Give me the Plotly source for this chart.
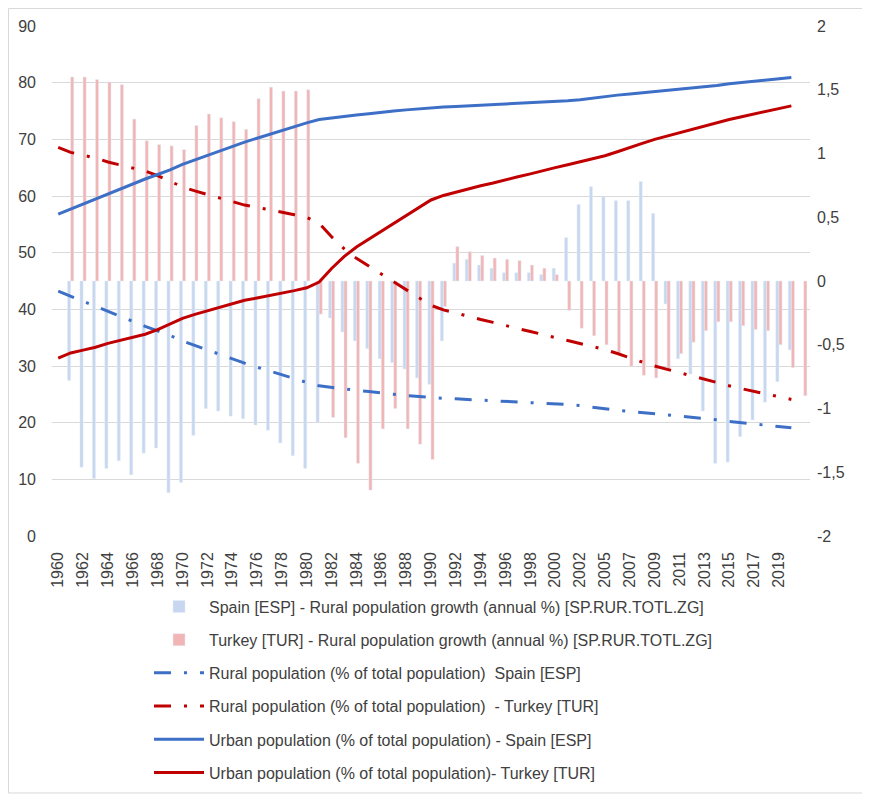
import plotly.graph_objects as go

years = [1960, 1961, 1962, 1963, 1964, 1965, 1966, 1967, 1968, 1969,
         1970, 1971, 1972, 1973, 1974, 1975, 1976, 1977, 1978, 1979,
         1980, 1981, 1982, 1983, 1984, 1985, 1986, 1987, 1988, 1989,
         1990, 1991, 1992, 1993, 1994, 1995, 1996, 1997, 1998, 1999,
         2000, 2001, 2002, 2004, 2005, 2006, 2007, 2008, 2009, 2010,
         2011, 2012, 2013, 2014, 2015, 2016, 2017, 2018, 2019, 2020,
         2021]
categories = [str(y) for y in years]
tick_labels = categories[0:59:2]

spain_growth = [None, -0.78, -1.46, -1.55, -1.47, -1.41, -1.52, -1.35, -1.31, -1.66,
                -1.58, -1.21, -1.00, -1.02, -1.06, -1.08, -1.13, -1.17, -1.27, -1.37,
                -1.47, -1.11, -0.29, -0.40, -0.47, -0.53, -0.61, -0.64, -0.69, -0.76,
                -0.81, -0.47, 0.14, 0.17, 0.125, 0.10, 0.065, 0.065, 0.065, 0.05,
                0.10, 0.34, 0.60, 0.74, 0.66, 0.63, 0.63, 0.78, 0.53, -0.18,
                -0.61, -0.73, -1.02, -1.43, -1.42, -1.22, -1.09, -0.95, -0.79, -0.54,
                None]

turkey_growth = [None, 1.60, 1.60, 1.58, 1.56, 1.54, 1.27, 1.10, 1.07, 1.06,
                 1.03, 1.22, 1.31, 1.28, 1.25, 1.19, 1.43, 1.52, 1.49, 1.49,
                 1.50, -0.26, -1.07, -1.23, -1.43, -1.64, -1.16, -1.00, -1.16, -1.28,
                 -1.40, -0.20, 0.27, 0.23, 0.20, 0.18, 0.17, 0.16, 0.125, 0.10,
                 0.05, -0.23, -0.37, -0.43, -0.50, -0.57, -0.67, -0.74, -0.76, -0.69,
                 -0.57, -0.48, -0.39, -0.32, -0.32, -0.35, -0.38, -0.39, -0.50, -0.68,
                 -0.90]

spain_rural = [43.2, 42.3, 41.4, 40.5, 39.6, 38.7, 37.8, 37.0, 36.2, 35.4,
               34.4, 33.6, 32.8, 32.0, 31.3, 30.5, 29.8, 29.1, 28.4, 27.8,
               27.1, 26.5, 26.2, 26.0, 25.7, 25.5, 25.2, 25.0, 24.8, 24.6,
               24.4, 24.3, 24.2, 24.1, 24.0, 23.9, 23.8, 23.7, 23.6, 23.5,
               23.4, 23.2, 23.0, 22.7, 22.4, 22.2, 22.0, 21.8, 21.6, 21.4,
               21.2, 20.9, 20.7, 20.5, 20.2, 20.0, 19.8, 19.6, 19.3, 19.1,
               None]

turkey_rural = [68.6, 67.7, 67.2, 66.7, 66.0, 65.5, 65.0, 64.4, 63.6, 62.6,
                61.6, 60.9, 60.3, 59.7, 59.1, 58.4, 58.0, 57.6, 57.1, 56.7,
                56.2, 55.2, 52.8, 50.7, 49.0, 47.6, 46.3, 44.8, 43.4, 42.0,
                40.7, 39.9, 39.3, 38.8, 38.2, 37.7, 37.1, 36.6, 36.1, 35.5,
                35.0, 34.5, 34.0, 33.5, 32.9, 32.2, 31.4, 30.7, 30.0, 29.4,
                28.8, 28.2, 27.6, 27.0, 26.5, 26.0, 25.5, 25.0, 24.6, 24.1,
                None]

spain_urban = [56.8, 57.7, 58.6, 59.5, 60.4, 61.3, 62.2, 63.0, 63.8, 64.6,
               65.6, 66.4, 67.2, 68.0, 68.7, 69.5, 70.2, 70.9, 71.6, 72.2,
               72.9, 73.5, 73.8, 74.0, 74.3, 74.5, 74.8, 75.0, 75.2, 75.4,
               75.6, 75.7, 75.8, 75.9, 76.0, 76.1, 76.2, 76.3, 76.4, 76.5,
               76.6, 76.8, 77.0, 77.3, 77.6, 77.8, 78.0, 78.2, 78.4, 78.6,
               78.8, 79.1, 79.3, 79.5, 79.8, 80.0, 80.2, 80.4, 80.7, 80.9,
               None]

turkey_urban = [31.4, 32.3, 32.8, 33.3, 34.0, 34.5, 35.0, 35.6, 36.4, 37.4,
                38.4, 39.1, 39.7, 40.3, 40.9, 41.6, 42.0, 42.4, 42.9, 43.3,
                43.8, 44.8, 47.2, 49.3, 51.0, 52.4, 53.7, 55.2, 56.6, 58.0,
                59.3, 60.1, 60.7, 61.2, 61.8, 62.3, 62.9, 63.4, 63.9, 64.5,
                65.0, 65.5, 66.0, 66.5, 67.1, 67.8, 68.6, 69.3, 70.0, 70.6,
                71.2, 71.8, 72.4, 73.0, 73.5, 74.0, 74.5, 75.0, 75.4, 75.9,
                None]

right_ticks = [2, 1.5, 1, 0.5, 0, -0.5, -1, -1.5, -2]
right_tick_text = ["2", "1,5", "1", "0,5", "0", "-0,5", "-1", "-1,5", "-2"]

BLUE = "#3d6fc6"
RED = "#c00000"
BAR_BLUE = "#c7d7ef"
BAR_RED = "#f2b5b5"
TXT = "#404040"
FONT = "Liberation Sans, Arial, sans-serif"
dashdot = "17px,13px,3px,13px"

fig = go.Figure()
fig.add_trace(go.Bar(x=categories, y=spain_growth, yaxis="y", marker_color=BAR_BLUE,
                     name="Spain [ESP] - Rural population growth (annual %) [SP.RUR.TOTL.ZG]",
                     legendgroup="g1"))
fig.add_trace(go.Bar(x=categories, y=turkey_growth, yaxis="y", marker_color=BAR_RED,
                     name="Turkey [TUR] - Rural population growth (annual %) [SP.RUR.TOTL.ZG]",
                     legendgroup="g2"))
fig.add_trace(go.Scatter(x=categories, y=spain_rural, yaxis="y2", mode="lines",
                         line=dict(color=BLUE, width=3, dash=dashdot),
                         name="Rural population (% of total population)  Spain [ESP]",
                         legendgroup="g3"))
fig.add_trace(go.Scatter(x=categories, y=turkey_rural, yaxis="y2", mode="lines",
                         line=dict(color=RED, width=3, dash=dashdot),
                         name="Rural population (% of total population)  - Turkey [TUR]",
                         legendgroup="g4"))
fig.add_trace(go.Scatter(x=categories, y=spain_urban, yaxis="y2", mode="lines",
                         line=dict(color=BLUE, width=3),
                         name="Urban population (% of total population) - Spain [ESP]",
                         legendgroup="g5"))
fig.add_trace(go.Scatter(x=categories, y=turkey_urban, yaxis="y2", mode="lines",
                         line=dict(color=RED, width=3),
                         name="Urban population (% of total population)- Turkey [TUR]",
                         legendgroup="g6"))

fig.update_layout(
    width=870, height=797,
    margin=dict(l=44, r=68, t=18, b=269, autoexpand=False),
    paper_bgcolor="white", plot_bgcolor="white",
    font=dict(family=FONT, size=16, color=TXT),
    barmode="group", bargap=0.5, bargroupgap=0,
    xaxis=dict(type="category", categoryorder="array", categoryarray=categories,
               tickmode="array", tickvals=tick_labels, ticktext=tick_labels,
               tickangle=-90, showgrid=False, zeroline=False, showline=False,
               automargin=False, ticks="", ticklabelstandoff=12,
               tickfont=dict(size=16, color=TXT)),
    yaxis=dict(side="right", range=[-2, 2], tickmode="array", tickvals=right_ticks,
               ticktext=right_tick_text, showgrid=False, zeroline=False, showline=False,
               automargin=False, ticks="", ticklabelstandoff=6,
               tickfont=dict(size=16, color=TXT)),
    yaxis2=dict(side="left", overlaying="y", range=[0, 90], dtick=10,
                showgrid=True, gridcolor="#d9d9d9", gridwidth=1,
                zeroline=False, showline=False, automargin=False, ticks="",
                ticklabelstandoff=15, tickfont=dict(size=16, color=TXT)),
    legend=dict(orientation="v", x=0.128, xanchor="left",
                yref="container", y=0.2703, yanchor="top",
                traceorder="grouped", tracegroupgap=9.4, itemwidth=50,
                font=dict(family=FONT, size=16, color=TXT), bgcolor="rgba(0,0,0,0)"),
    shapes=[dict(type="rect", xref="paper", yref="paper",
                 x0=-0.0574, x1=1.0739, y0=-0.5039, y1=1.0343,
                 line=dict(color="#d9d9d9", width=1), fillcolor="rgba(0,0,0,0)",
                 layer="below")],
    showlegend=True,
)

fig.write_html("out.html")
